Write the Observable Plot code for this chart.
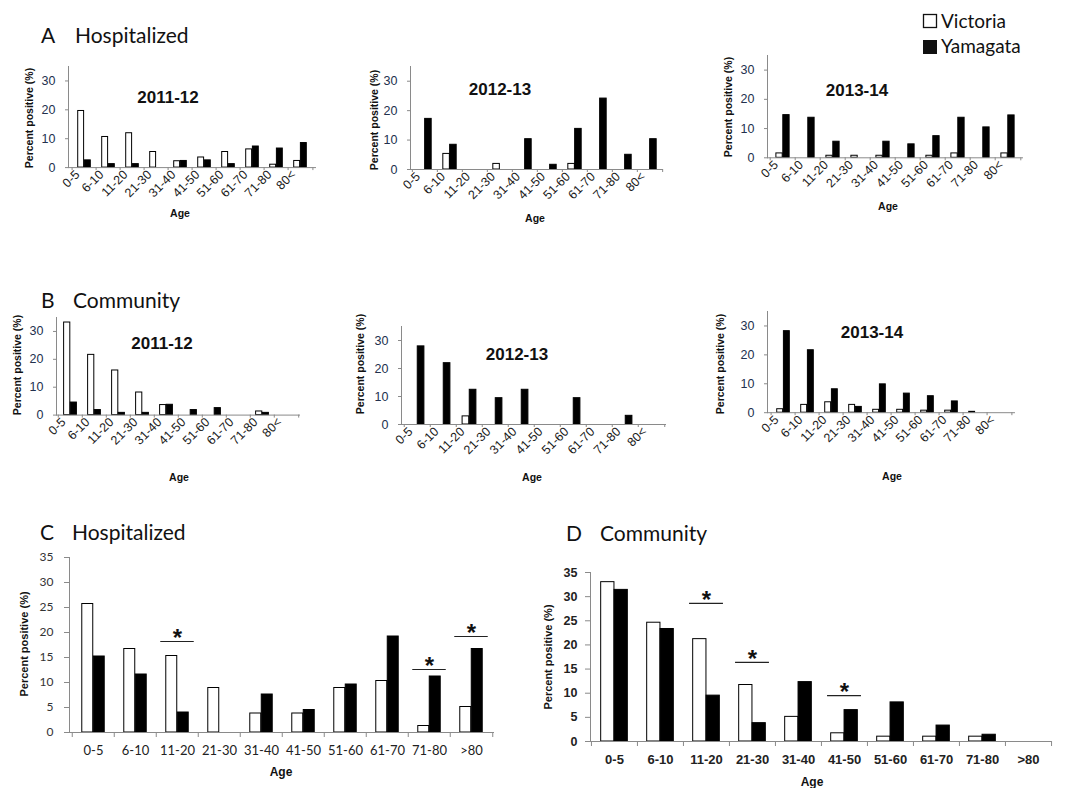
<!DOCTYPE html>
<html><head><meta charset="utf-8">
<script src="https://cdn.jsdelivr.net/npm/d3@7"></script>
<script src="https://cdn.jsdelivr.net/npm/@observablehq/plot@0.6"></script>
<style>
body{margin:0;background:#fff}
#root{position:relative;width:1066px;height:788px;overflow:hidden;background:#fff}
#root svg{position:absolute}
</style></head><body><div id="root"></div>
<script>
// ---- categories ----
const ages = ["0-5","6-10","11-20","21-30","31-40","41-50","51-60","61-70","71-80","80<"];
const agesTotal = ["0-5","6-10","11-20","21-30","31-40","41-50","51-60","61-70","71-80",">80"];
const seriesNames = ["Victoria","Yamagata"];
const smallTicks = [0,10,20,30];
const bigTicks = [0,5,10,15,20,25,30,35];

// ---- A: hospitalized, by season ----
const hosp1112Vic = [19.6,10.6,11.9,5.4,2.2,3.5,5.4,6.3,1.0,2.3];
const hosp1112Yam = [2.5,1.2,1.2,0,2.3,2.5,1.2,7.3,6.6,8.5];
const hosp1213Vic = [0,5.3,0,1.9,0,0,1.9,0,0,0];
const hosp1213Yam = [17.2,8.4,0,0,10.3,1.6,13.8,24.1,5.0,10.3];
const hosp1314Vic = [1.5,0,0.7,0.7,0.7,0,0.7,1.5,0,1.5];
const hosp1314Yam = [14.6,13.7,5.5,0,5.5,4.6,7.4,13.7,10.4,14.5];
// ---- B: community, by season ----
const comm1112Vic = [33.2,21.6,16.0,8.1,3.6,0,0,0,1.3,0];
const comm1112Yam = [4.5,1.8,0.8,0.8,3.7,1.8,2.5,0,0.8,0];
const comm1213Vic = [0,0,2.9,0,0,0,0,0,0,0];
const comm1213Yam = [27.9,21.9,12.4,9.4,12.4,0,9.4,0,3.1,0];
const comm1314Vic = [1.2,2.7,3.6,2.7,1.0,1.0,0.7,0.7,0.3,0];
const comm1314Yam = [28.2,21.6,8.1,2.0,9.8,6.6,5.7,3.9,0,0];
// ---- C / D: totals ----
const hospTotVic = [25.7,16.7,15.3,8.9,3.8,3.8,8.9,10.3,1.3,5.1];
const hospTotYam = [15.2,11.6,4.0,0,7.6,4.5,9.6,19.2,11.2,16.7];
const commTotVic = [33.0,24.6,21.2,11.7,5.1,1.7,1.0,1.0,1.0,0];
const commTotYam = [31.4,23.3,9.5,3.8,12.3,6.5,8.1,3.3,1.4,0];
// ---- significance markers ----
const sigHospAges = ["11-20","71-80",">80"];
const sigHospY = [18.2,12.6,19.2];
const sigCommAges = ["11-20","21-30","41-50"];
const sigCommY = [28.6,16.4,9.5];

const AX = "#8a8a8a";
const root = document.getElementById("root");
const rowsOf = (cats, vals, series) => cats.map((age,i)=>({age, series, value: vals[i]})).filter(d=>d.value>0);

function panel(p){
  const mL=50,mR=16,mT=10,mB=60;
  const fw=p.right-p.left, fh=p.y0-p.y35;
  const bw=fw/p.cats.length, barW=bw*p.barFrac, pad=bw/2-barW, k=fh/35;
  const marks=[
    Plot.ruleX(p.cats,{x:d=>d,dx:-bw/2,y1:0,y2:-p.tickLen/k,stroke:AX}),
    Plot.ruleX([p.cats[p.cats.length-1]],{x:d=>d,dx:bw/2,y1:0,y2:-p.tickLen/k,stroke:AX}),
    Plot.frame({anchor:"left",stroke:AX}),
    Plot.axisY({ticks:p.yTicks,tickSize:p.tickLen,tickPadding:p.yPad,stroke:AX,fill:p.yColor,fontSize:p.yFont,fontWeight:p.yWeight,label:null}),
    Plot.axisX({tickSize:0,tickRotate:p.rotate,tickPadding:p.xPad,dx:p.xDx,fill:p.xColor,fontSize:p.xFont,fontWeight:p.xWeight,label:null}),
    Plot.barY(rowsOf(p.cats,p.vic,seriesNames[0]),{x:"age",y:"value",fill:"white",stroke:"black",strokeWidth:1,insetLeft:pad,insetRight:bw/2}),
    Plot.barY(rowsOf(p.cats,p.yam,seriesNames[1]),{x:"age",y:"value",fill:"black",stroke:"black",strokeWidth:1,insetLeft:bw/2,insetRight:pad}),
    Plot.ruleY([0],{stroke:AX})
  ];
  if (p.sigAges){
    const sig = p.sigAges.map((age,i)=>({age, y:p.sigY[i]}));
    const ins = (bw-p.sigW)/2;
    marks.push(Plot.tickY(sig,{x:"age",y:"y",stroke:"#222",strokeWidth:1.2,insetLeft:ins,insetRight:ins}));
    marks.push(Plot.text(sig,{x:"age",y:"y",text:()=>"*",dy:-3,fontSize:24,fontWeight:"bold",fill:"#111",fontFamily:"Liberation Sans"}));
  }
  const el = Plot.plot({
    width: fw+mL+mR, height: fh+mT+mB,
    marginLeft:mL, marginRight:mR, marginTop:mT, marginBottom:mB,
    x:{domain:p.cats, padding:0, type:"band"},
    y:{domain:[0,35]},
    style:{fontFamily:p.font, background:"transparent", overflow:"visible", color:"#222"},
    marks
  });
  el.style.left = (p.left-mL)+"px";
  el.style.top = (p.y35-mT)+"px";
  root.append(el);
}

const smallBase = {cats:ages, barFrac:0.27, tickLen:3, yTicks:smallTicks, yPad:10, yColor:"#22304d", yFont:12.5, yWeight:"normal",
  rotate:-45, xPad:5, xDx:-7, xColor:"#1a1a1a", xFont:12.5, xWeight:"normal", font:"Liberation Sans"};
panel({...smallBase, vic:hosp1112Vic, yam:hosp1112Yam, left:68, right:316, y0:166.7, y35:65.6});
panel({...smallBase, vic:hosp1213Vic, yam:hosp1213Yam, left:410, right:663, y0:169, y35:66});
panel({...smallBase, vic:hosp1314Vic, yam:hosp1314Yam, left:767, right:1023, y0:157.7, y35:55.4});
panel({...smallBase, vic:comm1112Vic, yam:comm1112Yam, left:56, right:300, y0:414.3, y35:316.7});
panel({...smallBase, vic:comm1213Vic, yam:comm1213Yam, left:401, right:666, y0:424, y35:326});
panel({...smallBase, vic:comm1314Vic, yam:comm1314Yam, left:767, right:1015, y0:412, y35:310.8});

panel({cats:agesTotal, vic:hospTotVic, yam:hospTotYam, left:69, right:494, y0:732, y35:557, barFrac:0.27, tickLen:5,
  yTicks:bigTicks, yPad:11, yColor:"#333", yFont:12, yWeight:"normal", rotate:0, xPad:13, xDx:0, xColor:"#222", xFont:13, xWeight:"normal",
  font:"Lato", sigAges:sigHospAges, sigY:sigHospY, sigW:34});
panel({cats:agesTotal, vic:commTotVic, yam:commTotYam, left:590, right:1051, y0:741, y35:572, barFrac:0.29, tickLen:5,
  yTicks:bigTicks, yPad:8, yColor:"#222", yFont:12.5, yWeight:"bold", rotate:0, xPad:13, xDx:0, xColor:"#222", xFont:13, xWeight:"bold",
  font:"Liberation Sans Narrow, Liberation Sans", sigAges:sigCommAges, sigY:sigCommY, sigW:34});

// ---- overlay texts ----
const svgNS="http://www.w3.org/2000/svg";
const ov=document.createElementNS(svgNS,"svg");
ov.setAttribute("width",1066);ov.setAttribute("height",788);
ov.style.left="0px";ov.style.top="0px";
root.append(ov);
function T(x,y,s,o={}){
  const t=document.createElementNS(svgNS,"text");
  t.setAttribute("x",x);t.setAttribute("y",y);
  t.setAttribute("font-family",o.ff||"Lato");
  t.setAttribute("font-size",o.fs||12);
  t.setAttribute("font-weight",o.fw||"normal");
  t.setAttribute("fill",o.fill||"#111");
  t.setAttribute("text-anchor",o.anchor||"start");
  if(o.mid) t.setAttribute("dominant-baseline","central");
  if(o.rot) t.setAttribute("transform",`rotate(${o.rot} ${x} ${y})`);
  t.textContent=s; ov.append(t);
}
const sec={ff:"Lato",fs:21};
T(41,43,"A",sec); T(75,43,"Hospitalized",sec);
T(41,308,"B",sec); T(73,308,"Community",sec);
T(40,540,"C",sec); T(72,540,"Hospitalized",sec);
T(566,541,"D",sec); T(600,541,"Community",sec);
// legend
const r1=document.createElementNS(svgNS,"rect");r1.setAttribute("x",923.5);r1.setAttribute("y",14.5);r1.setAttribute("width",13);r1.setAttribute("height",13);r1.setAttribute("fill","white");r1.setAttribute("stroke","#111");r1.setAttribute("stroke-width",1.3);ov.append(r1);
const r2=document.createElementNS(svgNS,"rect");r2.setAttribute("x",923);r2.setAttribute("y",40);r2.setAttribute("width",14);r2.setAttribute("height",14);r2.setAttribute("fill","#111");ov.append(r2);
T(941,28,seriesNames[0],{ff:"Lato",fs:19}); T(941,53,seriesNames[1],{ff:"Lato",fs:19});
// panel titles
const tt={ff:"Liberation Sans",fs:17,fw:"bold",anchor:"middle",mid:true};
T(168,97,"2011-12",tt); T(500,89,"2012-13",tt); T(857,90,"2013-14",tt);
T(162,343,"2011-12",tt); T(517,354,"2012-13",tt); T(872,332,"2013-14",tt);
// y labels
const yl={ff:"Liberation Sans",fs:10.5,fw:"bold",anchor:"middle",mid:true,rot:-90};
T(29,118,"Percent positive (%)",yl); T(374,120,"Percent positive (%)",yl); T(728,107,"Percent positive (%)",yl);
T(17,365,"Percent positive (%)",yl); T(360,364,"Percent positive (%)",yl); T(720,364,"Percent positive (%)",yl);
const ylb={ff:"Liberation Sans",fs:11,fw:"bold",anchor:"middle",mid:true,rot:-90};
T(24,644,"Percent positive (%)",ylb); T(548,657,"Percent positive (%)",ylb);
// x labels
const al={ff:"Liberation Sans",fs:10.5,fw:"bold",anchor:"middle",mid:true};
T(180,213,"Age",al); T(535,218,"Age",al); T(888,206,"Age",al);
T(179,477,"Age",al); T(532,477,"Age",al); T(892,476,"Age",al);
const alb={ff:"Liberation Sans",fs:12,fw:"bold",anchor:"middle",mid:true};
T(281,772,"Age",alb); T(812,782,"Age",alb);
</script></body></html>
